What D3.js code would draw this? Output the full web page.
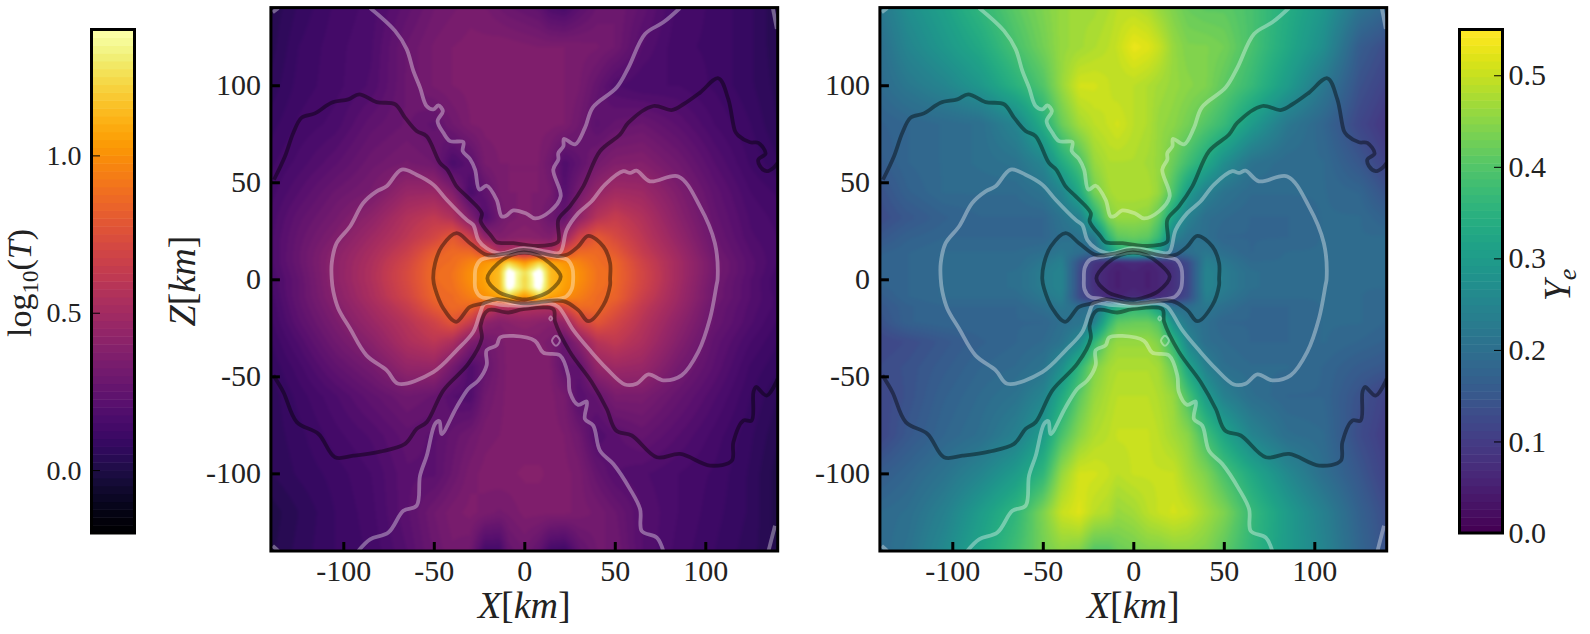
<!DOCTYPE html>
<html>
<head>
<meta charset="utf-8">
<script src="https://cdn.jsdelivr.net/npm/d3@7"></script>
<style>
  html, body { margin: 0; padding: 0; background: #fff; }
  svg { display: block; }
  text { font-family: "Liberation Serif", serif; fill: #222; }
</style>
</head>
<body>
<div id="chart"></div>
<script>
// grid nodes in km, finer near the core
const xNodes = [-140,-125,-105,-85,-65,-50,-40,-30,-22,-14,-9,0,8,14,22,30,40,50,65,85,105,125,140];
const zNodes = [140,120,100,80,60,45,32,22,14,9,4,0,-4,-9,-14,-22,-32,-45,-60,-80,-100,-120,-140];

// log10(T), one row per z node
const tempRows = [
  [.03,.08,.13,.16,.24,.30,.32,.34,.33,.30,.28,.26,.24,.18,.16,.22,.28,.30,.24,.14,.12,.08,.03],
  [.04,.10,.14,.17,.28,.33,.35,.36,.36,.37,.37,.36,.35,.35,.35,.34,.33,.30,.20,.13,.12,.08,.03],
  [.06,.11,.14,.18,.28,.33,.35,.36,.36,.36,.36,.36,.36,.36,.35,.33,.26,.18,.15,.15,.12,.08,.04],
  [.09,.13,.16,.24,.28,.24,.30,.35,.36,.36,.36,.36,.36,.36,.35,.30,.22,.26,.28,.22,.15,.10,.05],
  [.12,.16,.22,.29,.33,.30,.16,.22,.33,.35,.35,.35,.35,.30,.18,.24,.32,.37,.38,.30,.20,.12,.08],
  [.14,.20,.28,.33,.46,.47,.38,.16,.24,.33,.35,.35,.35,.33,.20,.32,.44,.50,.48,.36,.24,.15,.12],
  [.16,.24,.32,.42,.56,.62,.56,.36,.18,.30,.34,.36,.34,.28,.26,.42,.58,.64,.56,.40,.26,.17,.14],
  [.17,.26,.36,.48,.60,.70,.80,.66,.42,.36,.38,.40,.38,.36,.46,.68,.80,.72,.60,.44,.28,.18,.15],
  [.17,.27,.40,.52,.66,.82,.87,.87,.74,.54,.56,.58,.56,.54,.74,.87,.87,.80,.64,.48,.30,.20,.15],
  [.17,.27,.41,.54,.70,.86,.88,.96,1.02,1.08,1.22,1.02,1.22,1.08,1.02,.96,.88,.85,.68,.50,.32,.21,.15],
  [.16,.26,.41,.55,.72,.87,.90,1.0,1.06,1.15,1.5,1.26,1.5,1.15,1.06,1.0,.90,.86,.70,.50,.32,.21,.14],
  [.15,.25,.41,.55,.72,.87,.90,1.0,1.06,1.15,1.52,1.22,1.52,1.15,1.06,1.0,.90,.86,.70,.50,.31,.20,.13],
  [.15,.25,.40,.54,.71,.86,.89,.98,1.05,1.15,1.48,1.24,1.48,1.15,1.05,.98,.89,.85,.69,.49,.30,.20,.13],
  [.14,.25,.39,.53,.69,.85,.87,.94,1.0,1.06,1.2,1.0,1.2,1.06,1.0,.94,.87,.84,.66,.48,.30,.20,.14],
  [.13,.24,.37,.50,.64,.80,.87,.86,.70,.55,.56,.57,.56,.55,.72,.87,.87,.78,.62,.46,.28,.19,.14],
  [.12,.22,.34,.46,.58,.68,.78,.64,.42,.38,.40,.42,.40,.38,.44,.66,.78,.70,.58,.42,.27,.18,.12],
  [.10,.18,.30,.40,.54,.60,.54,.36,.30,.34,.36,.36,.36,.34,.26,.40,.58,.62,.54,.38,.24,.15,.10],
  [.08,.14,.24,.32,.44,.45,.32,.18,.26,.33,.36,.36,.36,.36,.24,.24,.44,.48,.46,.32,.22,.12,.08],
  [.06,.11,.17,.24,.30,.27,.20,.18,.30,.34,.36,.36,.36,.36,.33,.20,.26,.34,.34,.26,.18,.10,.05],
  [.06,.09,.14,.18,.24,.22,.26,.30,.34,.35,.36,.36,.36,.36,.35,.30,.18,.22,.26,.20,.14,.08,.03],
  [.05,.08,.11,.15,.22,.22,.28,.34,.36,.37,.37,.38,.38,.37,.36,.34,.26,.20,.18,.15,.12,.07,.01],
  [.01,.05,.10,.14,.22,.30,.34,.36,.34,.32,.33,.36,.36,.36,.36,.34,.32,.28,.20,.15,.11,.07,.01],
  [.02,.06,.10,.13,.20,.28,.32,.30,.14,.14,.26,.30,.24,.14,.12,.24,.30,.30,.20,.14,.10,.06,.02]
];

// Ye, one row per z node
const yeRows = [
  [.22,.27,.31,.36,.41,.44,.46,.47,.47,.48,.49,.49,.48,.46,.44,.42,.41,.41,.39,.34,.29,.21,.18],
  [.20,.25,.29,.33,.39,.43,.46,.47,.48,.49,.50,.53,.52,.50,.46,.44,.44,.43,.39,.33,.27,.16,.13],
  [.19,.22,.25,.29,.35,.40,.46,.51,.51,.50,.49,.49,.48,.47,.46,.45,.44,.41,.37,.30,.22,.14,.11],
  [.17,.18,.19,.20,.25,.34,.42,.47,.49,.50,.51,.49,.48,.46,.45,.43,.40,.37,.30,.22,.18,.12,.09],
  [.16,.18,.19,.20,.21,.25,.33,.39,.46,.48,.48,.48,.47,.46,.42,.38,.33,.27,.21,.19,.19,.15,.11],
  [.14,.17,.19,.19,.19,.21,.25,.33,.43,.47,.48,.48,.48,.46,.39,.30,.24,.21,.19,.19,.19,.18,.14],
  [.13,.15,.17,.18,.18,.18,.21,.24,.34,.44,.46,.46,.45,.41,.31,.24,.20,.19,.18,.18,.19,.19,.17],
  [.15,.17,.18,.18,.18,.18,.20,.21,.22,.36,.41,.42,.41,.37,.24,.21,.20,.18,.18,.18,.19,.19,.19],
  [.17,.18,.19,.19,.19,.20,.22,.20,.18,.28,.34,.36,.34,.28,.18,.20,.22,.20,.18,.19,.19,.19,.19],
  [.18,.18,.19,.19,.19,.22,.24,.14,.09,.07,.06,.07,.06,.07,.09,.13,.24,.22,.19,.19,.19,.19,.19],
  [.18,.18,.19,.19,.20,.23,.25,.13,.08,.06,.05,.06,.05,.06,.08,.12,.25,.23,.20,.19,.19,.19,.19],
  [.18,.18,.19,.19,.20,.23,.25,.13,.08,.06,.05,.06,.05,.06,.08,.12,.25,.23,.20,.19,.19,.19,.19],
  [.17,.18,.19,.19,.20,.23,.25,.13,.08,.06,.05,.06,.05,.06,.08,.12,.25,.23,.20,.19,.19,.19,.19],
  [.16,.18,.19,.19,.19,.22,.24,.13,.09,.07,.06,.07,.06,.07,.09,.13,.24,.22,.19,.19,.19,.19,.18],
  [.15,.17,.18,.18,.18,.20,.22,.20,.20,.30,.34,.36,.35,.30,.20,.20,.22,.20,.18,.18,.19,.19,.18],
  [.14,.17,.18,.18,.18,.18,.20,.21,.24,.36,.41,.42,.42,.40,.27,.22,.20,.18,.18,.18,.19,.19,.18],
  [.12,.13,.15,.17,.18,.19,.21,.26,.36,.44,.46,.46,.46,.44,.36,.25,.20,.19,.18,.18,.19,.18,.17],
  [.13,.14,.16,.18,.19,.21,.27,.36,.44,.47,.48,.48,.48,.47,.42,.32,.24,.20,.19,.19,.18,.16,.15],
  [.12,.14,.17,.19,.21,.25,.33,.41,.46,.48,.49,.49,.49,.48,.46,.39,.30,.24,.20,.18,.18,.14,.11],
  [.12,.15,.18,.20,.24,.30,.39,.45,.48,.49,.50,.50,.50,.49,.47,.45,.38,.32,.25,.20,.19,.13,.10],
  [.16,.18,.21,.25,.30,.36,.46,.51,.51,.50,.49,.50,.50,.50,.50,.47,.44,.39,.33,.26,.20,.15,.11],
  [.19,.20,.24,.30,.36,.44,.50,.52,.49,.48,.46,.47,.49,.50,.51,.50,.47,.44,.37,.30,.24,.17,.13],
  [.19,.21,.26,.32,.38,.43,.45,.44,.40,.40,.42,.43,.44,.44,.45,.45,.44,.41,.36,.30,.25,.18,.14]
];

// contour traces as [x km, z km]
const funnelTop = [[-85.2,139.8],[-71.4,128],[-65,118.6],[-61.3,107.4],[-57.6,98.8],[-54,89.3],[-50.2,87.6],[-47.5,89.6],[-45,86.7],[-47.9,81.5],[-44.7,75.5],[-41,71.2],[-33.7,70.7],[-34,66],[-30,62],[-27.2,56.5],[-24.8,46.2],[-20.8,48.2],[-15.3,41],[-12.5,32.4],[-10.1,32.7],[-6.1,35.5],[1.3,33.8],[5.9,31.4],[14.2,35],[20.1,42.7],[16,56.5],[18.8,61.7],[18.8,65],[21.6,68.6],[21.9,72.4],[28,69.5],[33.5,78],[37.8,88.5],[51,98.8],[57.5,109],[66.7,126.4],[76.8,132.4],[86,139.8]];
const funnelBottom = [[-91.7,-140],[-85.2,-134],[-75.1,-130.5],[-66.8,-119.3],[-59.5,-116.7],[-57.6,-101.2],[-53.9,-90.9],[-49.3,-74.5],[-46.9,-73.1],[-45.7,-79.7],[-37.4,-65.9],[-30.9,-56.4],[-25.4,-52.1],[-20.8,-44.3],[-20.8,-36.6],[-15.3,-34],[-13.4,-30],[-6,-29.2],[5.9,-31.7],[10.5,-37.8],[19.7,-39.2],[24.3,-49.5],[25.2,-58.1],[29.8,-64.7],[34.5,-63],[33.5,-72],[38.1,-75.4],[41.8,-88.3],[49.2,-95.2],[58.4,-108.1],[64,-118.5],[64.9,-129.7],[73.2,-133.1],[76.8,-140]];
const darkTop = [[-138.3,51.3],[-132.2,63.4],[-127.6,75.5],[-123,83.3],[-115.7,85.5],[-106.5,91],[-97.2,92.7],[-91.2,95.3],[-81.6,91.3],[-71.4,90.2],[-65.9,83.3],[-59.5,76.4],[-54,73.8],[-46.6,60],[-42.6,56.5],[-37.4,47.9],[-31.8,42.7],[-23.5,34.1],[-24.1,29.8],[-18,22],[-15.3,19.1],[-6,18.6],[5,17.2],[14.2,17.7],[18.8,19.5],[18.8,30.7],[25.2,37.6],[32.6,47.9],[41.8,66],[52.9,74.6],[57.5,80.7],[71.3,89.3],[81.4,87.2],[87.9,90.2],[97.1,96.2],[107.2,103.6],[112.7,92.8],[116.4,76.4],[118.2,74.1],[124.7,70.6],[129.3,70.3],[133.3,64.8],[129.3,61.7],[130.2,58.3],[133.9,55.7],[137.6,57.4],[140,60]];
const darkBottom = [[-138.6,-49.5],[-133.1,-58.1],[-125.7,-73.6],[-113.7,-79.7],[-104.6,-91.7],[-94.4,-90.9],[-79.7,-88.8],[-65.9,-84.8],[-59.5,-77.1],[-53.9,-73.6],[-44.7,-57.2],[-30.9,-43.5],[-23.5,-30.5],[-24.1,-23.6],[-19.9,-15.9],[-8.8,-17.1],[-0.5,-15.4],[16,-15.4],[17,-21.9],[25.2,-37.4],[37.2,-52.9],[45.5,-66.7],[50.7,-77.9],[59.4,-80.5],[73.2,-91.7],[86.1,-90],[102.6,-96],[114.6,-93.5],[115.5,-84],[121,-72.8],[125.6,-72.8],[126.6,-58.1],[128,-55.5],[133.9,-59.9],[140,-51.2]];
const cornerTraces = [
  [[-139,137.6],[-135.9,139.8]],
  [[137.3,139.8],[139.5,129]],
  [[-139,-137.4],[-135.9,-140]],
  [[134.9,-140],[138.5,-127]]
];
const lobeOutline = [[-106.4,0.2],[-106.4,8.3],[-103.7,18.6],[-96.3,27.2],[-89,39.3],[-81.6,45.3],[-76.1,47.9],[-67.8,56.5],[-59.5,53.9],[-50.3,48.8],[-42.9,41],[-31.8,30.6],[-28.2,28],[-25.4,20.3],[-20.8,16],[-13.4,13.4],[-0.5,16],[12.4,14.3],[19.7,13.8],[23.4,25.5],[29.8,34.1],[37.2,40.2],[44.6,48.8],[54.7,55.7],[58.4,54.8],[62,56],[69.4,50.5],[85.1,53],[97,37.6],[105.3,18.6],[106.8,0.2],[106.2,-3],[102.6,-20.2],[96.1,-37.4],[86.9,-49.5],[76.8,-52.1],[68.6,-49],[62,-53.8],[55.6,-54.2],[45.5,-46],[36.3,-36.6],[27.1,-26.2],[18.8,-14.2],[14.2,-12.4],[-0.5,-13.6],[-11.6,-13.3],[-21.7,-12.4],[-24.5,-17.6],[-28.2,-27.1],[-37.4,-36.6],[-50.3,-47.8],[-69.6,-53.8],[-76,-46.9],[-87.2,-39.2],[-96.3,-25.4],[-102.8,-15],[-105.5,-6.4]];
const bowtieOutline = [[-50.3,0.2],[-49.3,8.3],[-45.6,16.9],[-37.4,23.8],[-30,18.6],[-20.8,12.6],[-11.6,13.1],[-0.5,15.2],[17.9,12],[23.4,12.6],[29.8,16.9],[35.4,22.4],[43.7,16.9],[47.4,8.3],[47.4,0.2],[47.4,-3],[43.7,-13.3],[35.4,-21.6],[29.8,-15.9],[21.6,-11.2],[-0.5,-12.4],[-15.3,-10.2],[-22.7,-12.4],[-30,-14.2],[-37.7,-21.9],[-44.7,-15],[-49.3,-4.7]];
const coreOutline = [[-27.3,0],[-26.8,6],[-24,10],[-18,11.5],[-8,13],[0,14],[8,13],[18,11.5],[24,10],[26.5,6],[27,0],[26.2,-5],[23,-9],[16,-10.5],[6,-12],[0,-12.5],[-8,-12],[-18,-10],[-24,-9],[-27,-5]];
const eyeOutline = [[-20.4,0.5],[-14.4,8.3],[-7,12.5],[0,13.8],[7,12.5],[14,8.3],[20.1,1.4],[14,-6],[7,-9],[0,-10.4],[-7,-9],[-14.4,-6.4]];
const islandOutline = [[17.5,-29.1],[19.7,-31.7],[17.5,-34.3],[15.3,-31.7]];
const specOutline = [[14.6,-19.2],[15.4,-20.2],[14.6,-21.2],[13.8,-20.2]];

const axisTicks = [-100, -50, 0, 50, 100];
const axisTickLabels = ["-100", "-50", "0", "50", "100"];
const tempTicks = [0, 0.5, 1.0];
const yeTicks = [0, 0.1, 0.2, 0.3, 0.4, 0.5];

const width = 1590;
const height = 634;
const panelTop = 7.6;
const panelBottom = 551;
const panelWidth = 506.8;
const levels = 64;

const svg = d3.select("#chart").append("svg")
    .attr("width", width)
    .attr("height", height);

const yScale = d3.scaleLinear().domain([-140, 140]).range([panelBottom, panelTop]);

const tempBands = d3.scaleQuantize().domain([-0.2, 1.4]).range(d3.quantize(d3.interpolateInferno, levels));
const yeBands = d3.scaleQuantize().domain([0, 0.55]).range(d3.quantize(d3.interpolateViridis, levels));
// values above the colour range come out white in the core
const tempColor = v => v > 1.4 ? "#ffffff" : tempBands(v);
const yeColor = v => yeBands(v);

function sampleField(rows, x, z) {
    const i = Math.min(Math.max(d3.bisectRight(xNodes, x) - 1, 0), xNodes.length - 2);
    let k = 0;
    while (k < zNodes.length - 2 && zNodes[k + 1] > z) k++;
    const tx = Math.min(Math.max((x - xNodes[i]) / (xNodes[i + 1] - xNodes[i]), 0), 1);
    const tz = Math.min(Math.max((zNodes[k] - z) / (zNodes[k] - zNodes[k + 1]), 0), 1);
    const top = rows[k][i] * (1 - tx) + rows[k][i + 1] * tx;
    const bot = rows[k + 1][i] * (1 - tx) + rows[k + 1][i + 1] * tx;
    return top * (1 - tz) + bot * tz;
}

function drawField(g, rows, color, xScale) {
    const pad = 12;
    const x0 = xScale.range()[0];
    const w = Math.ceil(panelWidth);
    const h = Math.ceil(panelBottom - panelTop);
    const raw = document.createElement("canvas");
    raw.width = w + pad * 2;
    raw.height = h + pad * 2;
    const rawCtx = raw.getContext("2d");
    const img = rawCtx.createImageData(raw.width, raw.height);
    for (let py = 0; py < raw.height; py++) {
        const z = yScale.invert(panelTop + py - pad);
        for (let px = 0; px < raw.width; px++) {
            const x = xScale.invert(x0 + px - pad);
            const c = d3.rgb(color(sampleField(rows, x, z)));
            const n = (py * raw.width + px) * 4;
            img.data[n] = c.r;
            img.data[n + 1] = c.g;
            img.data[n + 2] = c.b;
            img.data[n + 3] = 255;
        }
    }
    rawCtx.putImageData(img, 0, 0);
    const out = document.createElement("canvas");
    out.width = w;
    out.height = h;
    const outCtx = out.getContext("2d");
    outCtx.filter = "blur(1.8px)";
    outCtx.drawImage(raw, -pad, -pad);
    g.append("image")
        .attr("x", x0)
        .attr("y", panelTop)
        .attr("width", w)
        .attr("height", h)
        .attr("href", out.toDataURL());
}

function drawPanel(rows, color, left) {
    const xScale = d3.scaleLinear().domain([-140, 140]).range([left, left + panelWidth]);
    const g = svg.append("g");
    const clipId = "clip" + Math.round(left);
    g.append("clipPath").attr("id", clipId).append("rect")
        .attr("x", left).attr("y", panelTop)
        .attr("width", panelWidth).attr("height", panelBottom - panelTop);

    drawField(g, rows, color, xScale);

    const line = d3.line().x(d => xScale(d[0])).y(d => yScale(d[1])).curve(d3.curveCatmullRom.alpha(0.5));
    const closed = d3.line().x(d => xScale(d[0])).y(d => yScale(d[1])).curve(d3.curveCatmullRomClosed.alpha(0.5));
    const lines = g.append("g").attr("clip-path", `url(#${clipId})`).attr("fill", "none").attr("stroke-width", 3.8);
    const lightStroke = "rgba(255,255,255,0.36)";
    const darkStroke = "rgba(0,0,0,0.42)";

    [funnelTop, funnelBottom, ...cornerTraces].forEach(d => {
        lines.append("path").attr("d", line(d)).attr("stroke", lightStroke);
    });
    [darkTop, darkBottom].forEach(d => {
        lines.append("path").attr("d", line(d)).attr("stroke", darkStroke);
    });
    [lobeOutline, coreOutline].forEach(d => {
        lines.append("path").attr("d", closed(d)).attr("stroke", lightStroke);
    });
    [islandOutline, specOutline].forEach(d => {
        lines.append("path").attr("d", closed(d)).attr("stroke", lightStroke).attr("stroke-width", 2);
    });
    [bowtieOutline, eyeOutline].forEach(d => {
        lines.append("path").attr("d", closed(d)).attr("stroke", darkStroke);
    });

    const bottomAxis = d3.axisBottom(xScale)
        .tickValues(axisTicks)
        .tickFormat((d, i) => axisTickLabels[i])
        .tickSize(-9)
        .tickPadding(9);
    const leftAxis = d3.axisLeft(yScale)
        .tickValues(axisTicks)
        .tickFormat((d, i) => axisTickLabels[i])
        .tickSize(-9)
        .tickPadding(10);

    [[bottomAxis, `translate(0,${panelBottom})`], [leftAxis, `translate(${left},0)`]].forEach(([axis, tr]) => {
        const a = g.append("g").attr("transform", tr).call(axis);
        a.select(".domain").remove();
        a.selectAll("line").attr("stroke", "#000").attr("stroke-width", 3);
        a.selectAll("text").style("font-family", '"Liberation Serif", serif').style("font-size", "30px").style("fill", "#222");
    });

    g.append("rect")
        .attr("x", left).attr("y", panelTop)
        .attr("width", panelWidth).attr("height", panelBottom - panelTop)
        .attr("fill", "none").attr("stroke", "#000").attr("stroke-width", 3);

    const xLabel = g.append("text")
        .attr("x", left + panelWidth / 2)
        .attr("y", 618)
        .attr("text-anchor", "middle")
        .style("font-size", "38px");
    xLabel.append("tspan").style("font-style", "italic").text("X");
    xLabel.append("tspan").text("[");
    xLabel.append("tspan").style("font-style", "italic").text("km");
    xLabel.append("tspan").text("]");
}

function drawColorbar(bands, domain, ticks, left, labelSide) {
    const cbTop = 29.5;
    const cbBottom = 533;
    const cbWidth = 43;
    const scale = d3.scaleLinear().domain(domain).range([cbBottom, cbTop]);
    const step = (domain[1] - domain[0]) / levels;
    const g = svg.append("g");

    g.selectAll("rect.band")
        .data(d3.range(levels))
        .join("rect")
        .attr("class", "band")
        .attr("x", left)
        .attr("width", cbWidth)
        .attr("y", d => scale(domain[0] + (d + 1) * step))
        .attr("height", d => scale(domain[0] + d * step) - scale(domain[0] + (d + 1) * step) + 0.5)
        .attr("fill", d => bands(domain[0] + (d + 0.5) * step));

    const axis = (labelSide === "left" ? d3.axisLeft(scale) : d3.axisRight(scale))
        .tickValues(ticks)
        .tickFormat(d3.format(".1f"))
        .tickSize(-8.5)
        .tickPadding(labelSide === "left" ? 10 : 6);
    const a = g.append("g")
        .attr("transform", `translate(${labelSide === "left" ? left : left + cbWidth},0)`)
        .call(axis);
    a.select(".domain").remove();
    a.selectAll("line").attr("stroke", "#000").attr("stroke-width", 1);
    a.selectAll("text").style("font-family", '"Liberation Serif", serif')
        .style("font-size", labelSide === "left" ? "28px" : "30px").style("fill", "#222");

    g.append("rect")
        .attr("x", left).attr("y", cbTop)
        .attr("width", cbWidth).attr("height", cbBottom - cbTop)
        .attr("fill", "none").attr("stroke", "#000").attr("stroke-width", 3);
}

drawPanel(tempRows, tempColor, 270.9);
drawPanel(yeRows, yeColor, 879.9);
drawColorbar(tempBands, [-0.2, 1.4], tempTicks, 91.5, "left");
drawColorbar(yeBands, [0, 0.55], yeTicks, 1459.5, "right");

// rotated labels
const zLabel = svg.append("text")
    .attr("transform", "translate(195,281) rotate(-90)")
    .attr("text-anchor", "middle")
    .style("font-size", "38px");
zLabel.append("tspan").style("font-style", "italic").text("Z");
zLabel.append("tspan").text("[");
zLabel.append("tspan").style("font-style", "italic").text("km");
zLabel.append("tspan").text("]");

const tempLabel = svg.append("text")
    .attr("transform", "translate(31,283) rotate(-90)")
    .attr("text-anchor", "middle")
    .style("font-size", "34px");
tempLabel.append("tspan").text("log");
tempLabel.append("tspan").attr("dy", 7).style("font-size", "23px").text("10");
tempLabel.append("tspan").attr("dy", -7).text("(");
tempLabel.append("tspan").style("font-style", "italic").text("T");
tempLabel.append("tspan").text(")");

const yeLabel = svg.append("text")
    .attr("transform", "translate(1570,285) rotate(-90)")
    .attr("text-anchor", "middle")
    .style("font-size", "38px");
yeLabel.append("tspan").style("font-style", "italic").text("Y");
yeLabel.append("tspan").attr("dy", 6).style("font-style", "italic").style("font-size", "26px").text("e");
</script>
</body>
</html>
